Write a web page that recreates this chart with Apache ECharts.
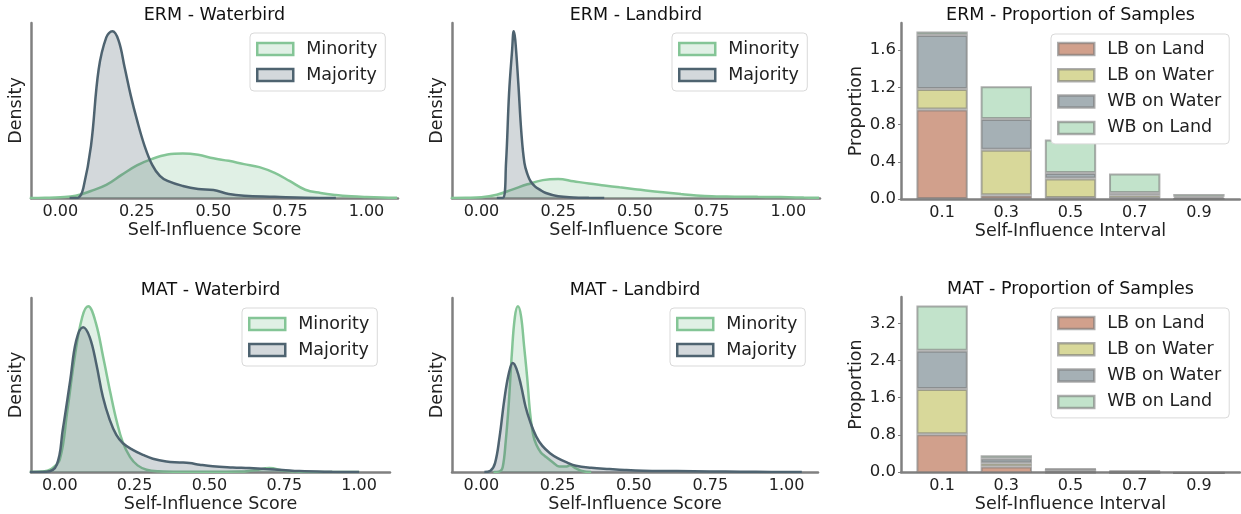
<!DOCTYPE html>
<html><head><meta charset="utf-8">
<script src="https://cdn.jsdelivr.net/npm/echarts@6/dist/echarts.min.js"></script>
<style>html,body{margin:0;padding:0;background:#fff}#c{width:1241px;height:514px}</style>
</head><body><div id="c"></div>
<script>
// ---------- data ----------
const scoreTicks = [0, 0.25, 0.5, 0.75, 1.0];
const intervalLabels = ['0.1', '0.3', '0.5', '0.7', '0.9'];
const ermPropTicks = [0.0, 0.4, 0.8, 1.2, 1.6];
const matPropTicks = [0.0, 0.8, 1.6, 2.4, 3.2];

const ermWbScoreMin = [-0.1,-0.05,0,0.05,0.1,0.15,0.2,0.25,0.3,0.35,0.4,0.45,0.5,0.55,0.6,0.65,0.7,0.75,0.8,0.85,0.9,0.95,1.0,1.05,1.1];
const ermWbDensMin  = [0,0.01,0.03,0.09,0.28,0.52,0.92,1.3,1.56,1.73,1.77,1.72,1.58,1.48,1.35,1.23,1.0,0.67,0.33,0.2,0.12,0.07,0.04,0.02,0.01];
const ermWbScoreMaj = [0.03,0.05,0.06,0.075,0.1,0.125,0.15,0.17,0.19,0.21,0.23,0.25,0.275,0.3,0.325,0.35,0.4,0.45,0.5,0.55,0.6,0.7,0.8,0.9];
const ermWbDensMaj  = [0,0,0.02,0.4,2.08,5.12,6.4,6.64,6.28,5.2,4.08,3.12,2.08,1.32,0.88,0.68,0.48,0.36,0.32,0.16,0.09,0.05,0.01,0];

const ermLbScoreMin = [-0.1,-0.05,0,0.05,0.1,0.15,0.2,0.25,0.3,0.35,0.4,0.45,0.5,0.55,0.6,0.65,0.7,0.75,0.8,0.85,0.9,0.95,1.0,1.05,1.1];
const ermLbDensMin  = [0,0.02,0.09,0.43,1.1,1.8,2.35,2.5,2.2,1.9,1.65,1.4,1.16,0.92,0.72,0.52,0.34,0.22,0.19,0.17,0.15,0.13,0.1,0.05,0.02];
const ermLbScoreMaj = [0.05,0.07,0.08,0.09,0.1,0.105,0.11,0.12,0.13,0.14,0.15,0.16,0.175,0.19,0.21,0.25,0.3,0.35,0.4];
const ermLbDensMaj  = [0,0.02,4.6,13.8,19.5,21.9,20.8,15.1,8.6,4.6,3.1,2.2,1.5,1.1,0.66,0.22,0.07,0.02,0];

const matWbScoreMin = [-0.1,-0.06,-0.03,0,0.025,0.05,0.075,0.095,0.12,0.145,0.17,0.19,0.21,0.235,0.26,0.29,0.33,0.4,0.5,0.6,0.65,0.7,0.75,0.8,0.9,1.0];
const matWbDensMin  = [0,0.02,0.12,0.54,2.64,5.03,6.77,7.25,6.55,5.03,3.41,2.23,1.32,0.65,0.29,0.1,0.03,0.01,0.01,0.02,0.08,0.17,0.05,0.01,0,0];
const matWbScoreMaj = [-0.1,-0.045,-0.01,0.01,0.035,0.055,0.078,0.1,0.122,0.144,0.167,0.189,0.211,0.244,0.278,0.311,0.356,0.4,0.433,0.467,0.511,0.578,0.633,0.689,0.744,0.8,0.91,1.0];
const matWbDensMaj  = [0,0.01,0.32,1.84,4.01,5.75,6.33,5.9,4.74,3.29,2.28,1.62,1.26,0.97,0.75,0.58,0.46,0.42,0.39,0.32,0.25,0.2,0.17,0.13,0.09,0.04,0.01,0];

const matLbScoreMin = [0.04,0.06,0.07,0.08,0.09,0.1,0.11,0.12,0.13,0.14,0.15,0.16,0.17,0.18,0.195,0.21,0.235,0.255,0.28,0.29,0.31,0.33,0.36];
const matLbDensMin  = [0,0.05,0.39,2.56,5.75,9.9,13.0,13.9,13.1,10.6,8.0,4.9,3.1,2.3,1.64,1.3,0.8,0.47,0.47,0.56,0.31,0.08,0];
const matLbScoreMaj = [0.01,0.03,0.045,0.06,0.075,0.09,0.103,0.115,0.13,0.145,0.16,0.18,0.2,0.225,0.25,0.28,0.31,0.36,0.42,0.47,0.53,0.64,0.75,0.85,0.95,1.05];
const matLbDensMaj  = [0,0.11,0.75,2.97,6.0,8.25,9.14,8.67,7.28,5.47,4.22,2.97,2.19,1.58,1.17,0.81,0.53,0.36,0.25,0.17,0.11,0.08,0.04,0.03,0.01,0];

const groupNames = ['LB on Land', 'LB on Water', 'WB on Water', 'WB on Land'];
const ermLbLand  = [0.96, 0.04, 0.01, 0.01, 0.0];
const ermLbWater = [0.22, 0.49, 0.21, 0.03, 0.005];
const ermWbWater = [0.58, 0.33, 0.06, 0.025, 0.02];
const ermWbLand  = [0.04, 0.35, 0.36, 0.21, 0.03];
const matLbLand  = [0.83, 0.14, 0.01, 0.005, 0.0];
const matLbWater = [0.97, 0.07, 0.02, 0.01, 0.0];
const matWbWater = [0.82, 0.10, 0.05, 0.02, 0.005];
const matWbLand  = [0.97, 0.07, 0.01, 0.01, 0.005];

// ---------- style ----------
const FONT = 'DejaVu Sans';
const AX = '#808080';
const MIN_LINE = '#84c596', MIN_FILL = 'rgba(132,197,150,0.25)';
const MAJ_LINE = '#4e6370', MAJ_FILL = 'rgba(78,99,112,0.25)';
const BAR_COLORS = ['#d1a08c', '#d8d89a', '#a5b0b5', '#c2e3cb'];
const BAR_EDGE = 'rgba(120,120,120,0.6)';

const grids = [
  {left: 31, top: 23, width: 367, height: 175},
  {left: 452, top: 23, width: 368, height: 175},
  {left: 901, top: 23, width: 339, height: 176},
  {left: 31, top: 298, width: 359, height: 175},
  {left: 452, top: 298, width: 366, height: 175},
  {left: 901, top: 297, width: 339, height: 176}
];
const titles = ['ERM - Waterbird', 'ERM - Landbird', 'ERM - Proportion of Samples',
                'MAT - Waterbird', 'MAT - Landbird', 'MAT - Proportion of Samples'];
const SX_MIN = -0.096, SX_MAX = 1.103;
const BX_MIN = -0.64, BX_MAX = 4.64;

const zip = (xs, ys) => xs.map((x, i) => [x, ys[i]]);
const densPanels = [
  {gi: 0, min: [ermWbScoreMin, ermWbDensMin], maj: [ermWbScoreMaj, ermWbDensMaj]},
  {gi: 1, min: [ermLbScoreMin, ermLbDensMin], maj: [ermLbScoreMaj, ermLbDensMaj]},
  {gi: 3, min: [matWbScoreMin, matWbDensMin], maj: [matWbScoreMaj, matWbDensMaj]},
  {gi: 4, min: [matLbScoreMin, matLbDensMin], maj: [matLbScoreMaj, matLbDensMaj]}
];
const barPanels = [
  {gi: 2, stacks: [ermLbLand, ermLbWater, ermWbWater, ermWbLand], ticks: ermPropTicks},
  {gi: 5, stacks: [matLbLand, matLbWater, matWbWater, matWbLand], ticks: matPropTicks}
];

const gridOpt = grids.slice();
const xAxis = [], yAxis = [], series = [], legend = [];
const labelStyle = {fontFamily: FONT, fontSize: 16, color: '#222'};
const nameStyle = {fontFamily: FONT, fontSize: 17.5, color: '#222'};
const axisLine = {show: true, onZero: false, lineStyle: {color: AX, width: 2.5}};
const legendBase = {
  orient: 'vertical', backgroundColor: '#fff', borderColor: '#d9d9d9', borderWidth: 1,
  borderRadius: 4, itemWidth: 36, itemHeight: 12, itemGap: 8,
  textStyle: {fontFamily: FONT, fontSize: 17.5, color: '#222', lineHeight: 18, padding: [0, 0, 0, 8]},
  selectedMode: false
};

densPanels.forEach(p => {
  const g = grids[p.gi];
  const ymax = Math.max(...p.min[1], ...p.maj[1]) * 1.05;
  xAxis[p.gi] = {
    type: 'value', gridIndex: p.gi, min: SX_MIN, max: SX_MAX,
    name: 'Self-Influence Score', nameLocation: 'middle', nameGap: 23, nameTextStyle: nameStyle,
    axisLine, axisTick: {show: false},
    axisLabel: Object.assign({customValues: scoreTicks, formatter: v => v.toFixed(2), margin: 6}, labelStyle),
    splitLine: {show: false}
  };
  yAxis[p.gi] = {
    type: 'value', gridIndex: p.gi, min: 0, max: ymax,
    name: 'Density', nameLocation: 'middle', nameGap: 6, nameTextStyle: nameStyle,
    axisLine, axisTick: {show: false}, axisLabel: {show: false}, splitLine: {show: false}
  };
  [['Minority', p.min, MIN_LINE, MIN_FILL, 2], ['Majority', p.maj, MAJ_LINE, MAJ_FILL, 3]].forEach(s => {
    series.push({
      type: 'line', name: s[0], xAxisIndex: p.gi, yAxisIndex: p.gi,
      data: zip(s[1][0], s[1][1]), smooth: 0.4, showSymbol: false, symbol: 'none',
      lineStyle: {color: s[2], width: 2.5}, itemStyle: {color: s[2]},
      areaStyle: {color: s[3], opacity: 1}, z: s[4], silent: true
    });
  });
  legend.push(Object.assign({}, legendBase, {
    left: g.left + g.width - 148, top: g.top + 10,
    padding: [7, 8, 7, 6],
    data: [
      {name: 'Minority', icon: 'rect', itemStyle: {color: '#e0f0e5', borderColor: MIN_LINE, borderWidth: 2.5}},
      {name: 'Majority', icon: 'rect', itemStyle: {color: '#d3d8db', borderColor: MAJ_LINE, borderWidth: 2.5}}
    ]
  }));
});

barPanels.forEach(p => {
  const g = grids[p.gi];
  const totals = p.stacks[0].map((_, i) => p.stacks.reduce((a, s) => a + s[i], 0));
  const ymax = Math.max(...totals) * 1.05;
  const pxPerUnit = g.width / (BX_MAX - BX_MIN);
  xAxis[p.gi] = {
    type: 'value', gridIndex: p.gi, min: BX_MIN, max: BX_MAX,
    name: 'Self-Influence Interval', nameLocation: 'middle', nameGap: 23, nameTextStyle: nameStyle,
    axisLine, axisTick: {show: false},
    axisLabel: Object.assign({customValues: intervalLabels.map((_, i) => i), formatter: v => intervalLabels[Math.round(v)], margin: 6}, labelStyle),
    splitLine: {show: false}
  };
  yAxis[p.gi] = {
    type: 'value', gridIndex: p.gi, min: 0, max: ymax,
    name: 'Proportion', nameLocation: 'middle', nameGap: 33, nameTextStyle: nameStyle,
    axisLine,
    axisTick: {show: true, customValues: p.ticks, length: 3, lineStyle: {color: AX, width: 1}},
    axisLabel: Object.assign({customValues: p.ticks, formatter: v => v.toFixed(1), margin: 5}, labelStyle, {fontSize: 16.5}),
    splitLine: {show: false}
  };
  const ig = gridOpt.length;
  gridOpt.push({left: g.left + (-0.5 - BX_MIN) * pxPerUnit, top: g.top, width: 5 * pxPerUnit, height: g.height});
  xAxis[ig] = {type: 'category', gridIndex: ig, data: intervalLabels, boundaryGap: true, show: false};
  yAxis[ig] = {type: 'value', gridIndex: ig, min: 0, max: ymax, show: false};
  p.stacks.forEach((vals, k) => {
    series.push({
      type: 'bar', name: groupNames[k], xAxisIndex: ig, yAxisIndex: ig,
      stack: 'st' + p.gi, barWidth: '80%',
      data: vals,
      itemStyle: {color: BAR_COLORS[k], borderColor: BAR_EDGE, borderWidth: 2}, silent: true
    });
  });
  legend.push(Object.assign({}, legendBase, {
    left: g.left + 150, top: g.top + 11, itemGap: 8.3,
    padding: [6, 8, 7, 6],
    data: groupNames.map((n, k) => ({name: n, icon: 'rect',
      itemStyle: {color: BAR_COLORS[k], borderColor: BAR_EDGE, borderWidth: 2.5}}))
  }));
});

const title = grids.map((g, i) => ({
  text: titles[i], left: g.left + g.width / 2, top: g.top - 17, textAlign: 'center', padding: 0,
  textStyle: {fontFamily: FONT, fontSize: 17.5, fontWeight: 'normal', color: '#111'}
}));

const chart = echarts.init(document.getElementById('c'), null, {renderer: 'canvas'});
chart.setOption({
  animation: false, backgroundColor: '#fff',
  title, grid: gridOpt, xAxis, yAxis, series, legend
});
</script></body></html>
